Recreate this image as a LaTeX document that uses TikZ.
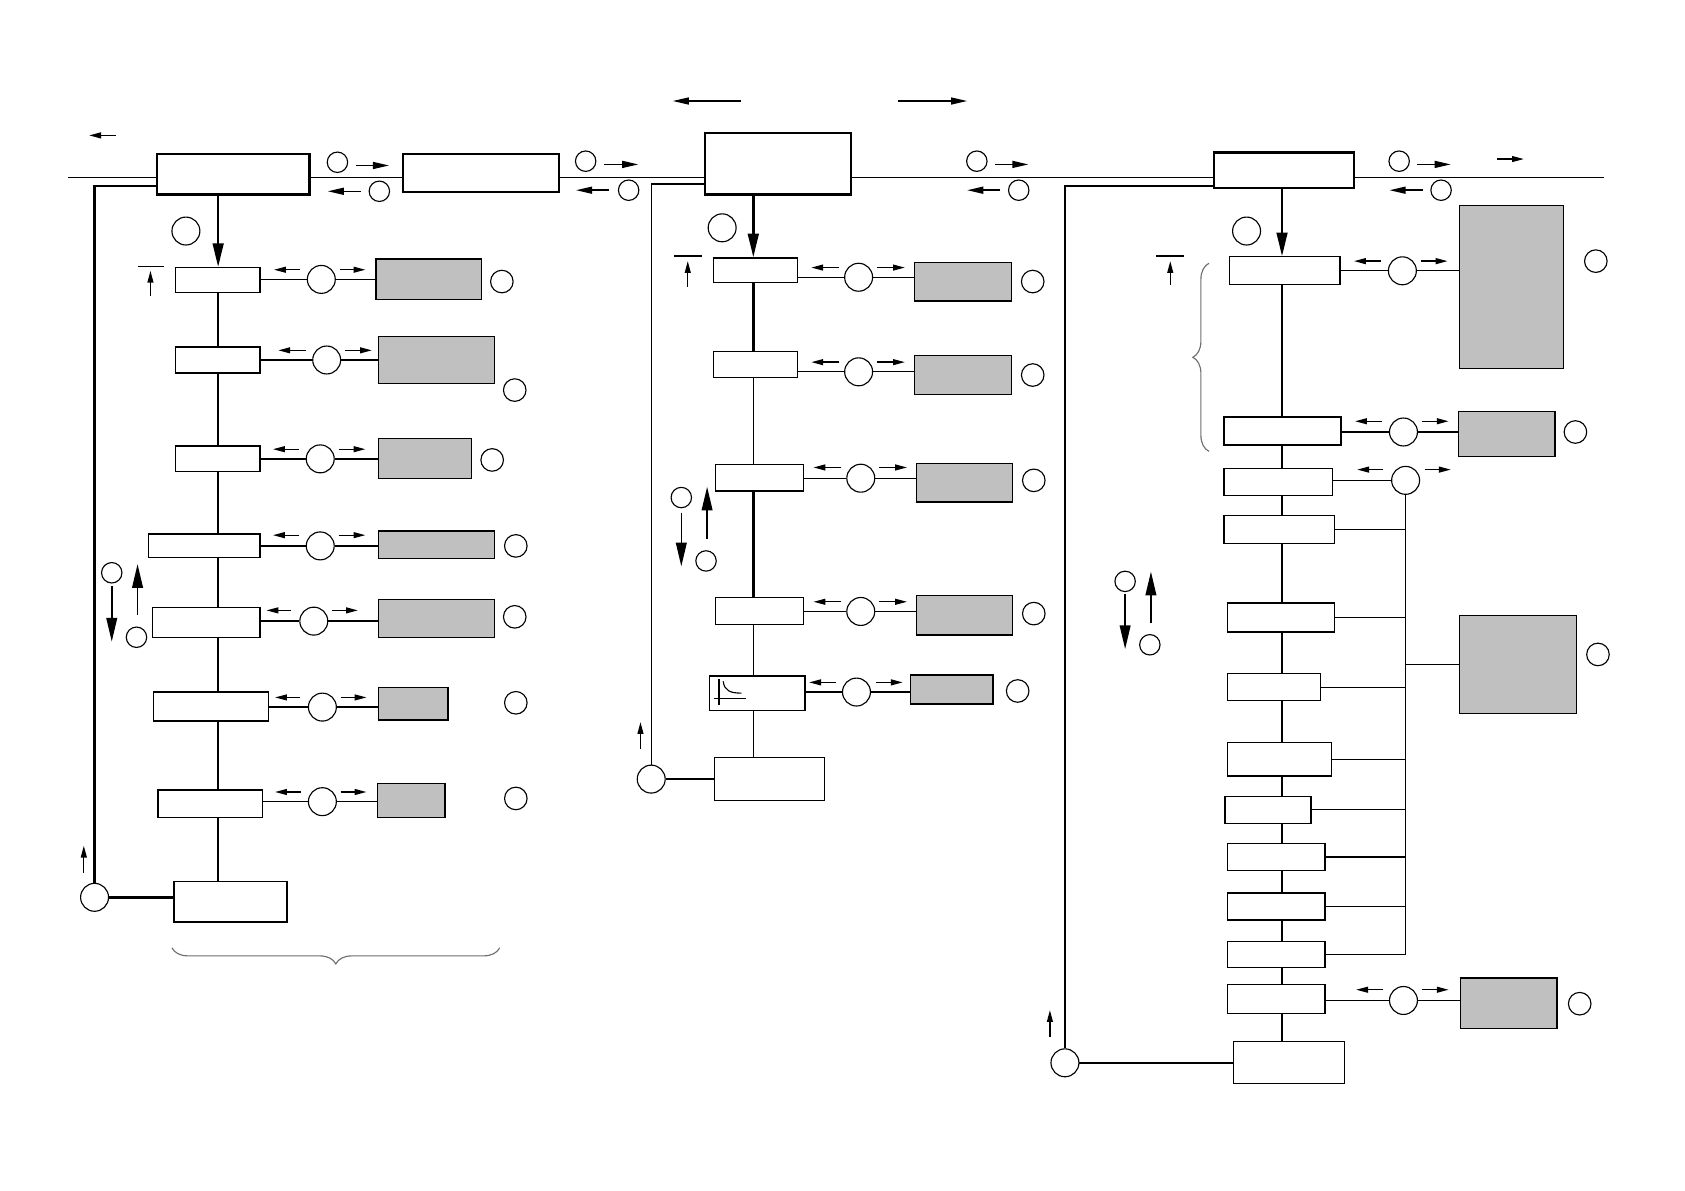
\documentclass[tikz,border=0pt]{standalone}
\usepackage{xcolor}
\usepackage{tikz}
\usetikzlibrary{arrows.meta,positioning,calc,fit,decorations.pathreplacing}
\definecolor{shade}{RGB}{192, 192, 192}
\definecolor{bracegray}{RGB}{110, 110, 110}

\begin{document}
\begin{tikzpicture}[
    x=0.02cm, y=-0.02cm,
    mainbox/.style={draw, line width=1.2pt, fill=white, inner sep=0pt},
    subbox/.style={draw, line width=0.7pt, fill=white, inner sep=0pt},
    shadebox/.style={draw, line width=0.7pt, fill=shade, inner sep=0pt},
    bigc/.style={circle, draw, line width=0.6pt, fill=white, minimum size=0.52cm, inner sep=0pt},
    tagc/.style={circle, draw, line width=0.6pt, minimum size=0.42cm, inner sep=0pt},
    smallc/.style={circle, draw, line width=0.6pt, minimum size=0.38cm, inner sep=0pt},
    bus/.style={line width=0.8pt},
    link/.style={line width=0.7pt},
    spine/.style={line width=1.3pt},
    sarrow/.style={-{Triangle[length=2.2mm,width=1.1mm]}, line width=0.7pt},
    marrow/.style={-{Triangle[length=3mm,width=1.3mm]}, line width=0.8pt},
    bigarrow/.style={-{Triangle[length=4.4mm,width=2mm]}, line width=1.3pt},
    bracket/.style={decorate, decoration={brace, amplitude=0.3cm}, bracegray, line width=0.6pt}
]
    \useasboundingbox (0,0) rectangle (1568,1108);

    % Top row: main blocks on the bus
    \node[mainbox, fit={(146,143) (288,181)}] (lmain) {};
    \node[mainbox, fit={(375,143) (520,179)}] (mid) {};
    \node[mainbox, fit={(656,124) (792,181)}] (cmain) {};
    \node[mainbox, fit={(1130,142) (1260,175)}] (rmain) {};
    \coordinate (busl) at (63,165);
    \coordinate (busr) at (1493,165);

    \draw[bus] (busl) -- (busl -| lmain.west);
    \draw[bus] (busl -| lmain.east) -- (busl -| mid.west);
    \draw[bus] (busl -| mid.east) -- (busl -| cmain.west);
    \draw[bus] (busl -| cmain.east) -- (busl -| rmain.west);
    \draw[bus] (busl -| rmain.east) -- (busr);

    % Bus flow markers
    \node[smallc] (ta1) at (314,151) {};
    \node[smallc] (ta2) at (353,178) {};
    \draw[marrow] ($(ta1)+(17,3)$) -- ++(31,0);
    \draw[marrow] ($(ta2)+(-17,0)$) -- ++(-31,0);
    \node[smallc] (tb1) at (545,150) {};
    \node[smallc] (tb2) at (585,177) {};
    \draw[marrow] ($(tb1)+(17,3)$) -- ++(32,0);
    \draw[marrow] ($(tb2)+(-18,0)$) -- ++(-31,0);
    \node[smallc] (tc1) at (909,150) {};
    \node[smallc] (tc2) at (948,177) {};
    \draw[marrow] ($(tc1)+(17,3)$) -- ++(31,0);
    \draw[marrow] ($(tc2)+(-17,0)$) -- ++(-31,0);
    \node[smallc] (td1) at (1302,150) {};
    \node[smallc] (td2) at (1341,177) {};
    \draw[marrow] ($(td1)+(17,3)$) -- ++(31,0);
    \draw[marrow] ($(td2)+(-17,0)$) -- ++(-31,0);
    \draw[sarrow] (1393,148) -- (1418,148);
    \draw[sarrow] (108,126) -- (83,126);
    \draw[marrow] (690,94) -- (626,94);
    \draw[marrow] (836,94) -- (900,94);

    % Left column
    \coordinate (lx) at (203,0);
    \node[subbox, fit={(163,249) (242,272)}] (l1) {};
    \node[subbox, fit={(163,323) (242,347)}] (l2) {};
    \node[subbox, fit={(163,415) (242,439)}] (l3) {};
    \node[subbox, fit={(138,497) (242,519)}] (l4) {};
    \node[subbox, fit={(142,565) (242,593)}] (l5) {};
    \node[subbox, fit={(143,644) (250,671)}] (l6) {};
    \node[subbox, fit={(147,735) (244,761)}] (l7) {};
    \node[subbox, fit={(162,820) (267,858)}] (lend) {};

    \draw[bigarrow] (lmain.south -| lx) -- (l1.north -| lx);
    \node[bigc] (lin) at (173,215) {};
    \draw[spine] (l1.south -| lx) -- (l2.north -| lx) (l2.south -| lx) -- (l3.north -| lx)
        (l3.south -| lx) -- (l4.north -| lx) (l4.south -| lx) -- (l5.north -| lx)
        (l5.south -| lx) -- (l6.north -| lx) (l6.south -| lx) -- (l7.north -| lx)
        (l7.south -| lx) -- (lend.north -| lx);

    \node[bigc] (lc1) at (299,260) {};
    \node[shadebox, fit={(350,241) (448,279)}] (ls1) {};
    \node[tagc] at (467,262) {};
    \node[bigc] (lc2) at (304,335) {};
    \node[shadebox, fit={(352,313) (460,357)}] (ls2) {};
    \node[tagc] at (479,363) {};
    \node[bigc] (lc3) at (298,427) {};
    \node[shadebox, fit={(352,408) (439,445)}] (ls3) {};
    \node[tagc] at (458,428) {};
    \node[bigc] (lc4) at (298,508) {};
    \node[shadebox, fit={(352,494) (460,520)}] (ls4) {};
    \node[tagc] at (480,508) {};
    \node[bigc] (lc5) at (292,578) {};
    \node[shadebox, fit={(352,558) (460,593)}] (ls5) {};
    \node[tagc] at (479,574) {};
    \node[bigc] (lc6) at (300,658) {};
    \node[shadebox, fit={(352,640) (417,670)}] (ls6) {};
    \node[tagc] at (480,654) {};
    \node[bigc] (lc7) at (300,746) {};
    \node[shadebox, fit={(351,729) (414,761)}] (ls7) {};
    \node[tagc] at (480,743) {};

    \draw[link] (lc1 -| l1.east) -- (lc1) -- (lc1 -| ls1.west);
    \draw[link] (lc2 -| l2.east) -- (lc2) -- (lc2 -| ls2.west);
    \draw[link] (lc3 -| l3.east) -- (lc3) -- (lc3 -| ls3.west);
    \draw[link] (lc4 -| l4.east) -- (lc4) -- (lc4 -| ls4.west);
    \draw[link] (lc5 -| l5.east) -- (lc5) -- (lc5 -| ls5.west);
    \draw[link] (lc6 -| l6.east) -- (lc6) -- (lc6 -| ls6.west);
    \draw[link] (lc7 -| l7.east) -- (lc7) -- (lc7 -| ls7.west);
    \draw[sarrow] ($(lc1)+(-20,-9)$) -- ++(-24,0);
    \draw[sarrow] ($(lc1)+(17,-9)$) -- ++(24,0);
    \draw[sarrow] ($(lc2)+(-19,-9)$) -- ++(-26,0);
    \draw[sarrow] ($(lc2)+(17,-9)$) -- ++(25,0);
    \draw[sarrow] ($(lc3)+(-20,-9)$) -- ++(-24,0);
    \draw[sarrow] ($(lc3)+(17,-9)$) -- ++(25,0);
    \draw[sarrow] ($(lc4)+(-20,-10)$) -- ++(-24,0);
    \draw[sarrow] ($(lc4)+(17,-10)$) -- ++(25,0);
    \draw[sarrow] ($(lc5)+(-21,-10)$) -- ++(-23,0);
    \draw[sarrow] ($(lc5)+(17,-10)$) -- ++(24,0);
    \draw[sarrow] ($(lc6)+(-21,-9)$) -- ++(-23,0);
    \draw[sarrow] ($(lc6)+(17,-9)$) -- ++(24,0);
    \draw[sarrow] ($(lc7)+(-20,-9)$) -- ++(-24,0);
    \draw[sarrow] ($(lc7)+(17,-9)$) -- ++(24,0);

    % Left: level mark, direction pair, return loop
    \draw[line width=1pt] (128,248) -- (153,248);
    \draw[sarrow] (140,275) -- (140,252);
    \node[smallc] (lu1) at (104,533) {};
    \node[smallc] (lu2) at (127,593) {};
    \draw[bigarrow, line width=0.8pt] ($(lu1)+(0,12)$) -- (104,597);
    \draw[bigarrow, line width=0.8pt] ($(lu2)+(1,-21)$) -- (128,525);
    \node[bigc] (lret) at (88,835) {};
    \draw[spine] (lret) -- (lret -| lend.west);
    \draw[spine] (lret.north) |- ([yshift=0.18cm]lmain.south west);
    \draw[sarrow] (78,812) -- (78,787);
    \draw[bracket] (465,882) -- (160,882);

    % Center column
    \coordinate (cx) at (701,0);
    \node[subbox, fit={(664,240) (742,263)}] (c1) {};
    \node[subbox, fit={(664,327) (742,351)}] (c2) {};
    \node[subbox, fit={(666,432) (748,457)}] (c3) {};
    \node[subbox, fit={(666,556) (748,581)}] (c4) {};
    \node[subbox, fit={(660,629) (749,661)}] (c5) {};
    \node[subbox, fit={(665,705) (767,745)}] (cend) {};

    \draw[bigarrow] (cmain.south -| cx) -- (c1.north -| cx);
    \node[bigc] (cin) at (672,212) {};
    \draw[spine] (c1.south -| cx) -- (c2.north -| cx);
    \draw[link] (c2.south -| cx) -- (c3.north -| cx);
    \draw[spine] (c3.south -| cx) -- (c4.north -| cx);
    \draw[link] (c4.south -| cx) -- (c5.north -| cx);
    \draw[link] (c5.south -| cx) -- (cend.north -| cx);

    % curve symbol in c5
    \draw[link] (669,632) -- (669,656);
    \draw[link] (664,650) -- (694,650);
    \draw[line width=0.6pt] (673,634) .. controls (674,643) and (680,645) .. (690,645);

    \node[bigc] (cc1) at (799,258) {};
    \node[shadebox, fit={(851,244) (941,280)}] (cs1) {};
    \node[tagc] at (961,262) {};
    \node[bigc] (cc2) at (799,346) {};
    \node[shadebox, fit={(851,331) (941,367)}] (cs2) {};
    \node[tagc] at (961,349) {};
    \node[bigc] (cc3) at (801,445) {};
    \node[shadebox, fit={(853,431) (942,467)}] (cs3) {};
    \node[tagc] at (962,447) {};
    \node[bigc] (cc4) at (801,569) {};
    \node[shadebox, fit={(853,554) (942,591)}] (cs4) {};
    \node[tagc] at (962,571) {};
    \node[bigc] (cc5) at (797,644) {};
    \node[shadebox, fit={(847,628) (924,655)}] (cs5) {};
    \node[tagc] at (947,643) {};

    \draw[link] (cc1 -| c1.east) -- (cc1) -- (cc1 -| cs1.west);
    \draw[link] (cc2 -| c2.east) -- (cc2) -- (cc2 -| cs2.west);
    \draw[link] (cc3 -| c3.east) -- (cc3) -- (cc3 -| cs3.west);
    \draw[link] (cc4 -| c4.east) -- (cc4) -- (cc4 -| cs4.west);
    \draw[link] (cc5 -| c5.east) -- (cc5) -- (cc5 -| cs5.west);
    \draw[sarrow] ($(cc1)+(-18,-9)$) -- ++(-26,0);
    \draw[sarrow] ($(cc1)+(17,-9)$) -- ++(26,0);
    \draw[sarrow] ($(cc2)+(-18,-9)$) -- ++(-26,0);
    \draw[sarrow] ($(cc2)+(17,-9)$) -- ++(26,0);
    \draw[sarrow] ($(cc3)+(-18,-10)$) -- ++(-26,0);
    \draw[sarrow] ($(cc3)+(17,-10)$) -- ++(26,0);
    \draw[sarrow] ($(cc4)+(-18,-9)$) -- ++(-26,0);
    \draw[sarrow] ($(cc4)+(17,-9)$) -- ++(26,0);
    \draw[sarrow] ($(cc5)+(-19,-9)$) -- ++(-25,0);
    \draw[sarrow] ($(cc5)+(18,-9)$) -- ++(25,0);

    % Center: level mark, direction pair, return loop
    \draw[line width=1pt] (627,238) -- (653,238);
    \draw[sarrow] (640,267) -- (640,243);
    \node[smallc] (cu1) at (634,463) {};
    \node[smallc] (cu2) at (657,522) {};
    \draw[bigarrow, line width=0.8pt] ($(cu1)+(0,14)$) -- (634,527);
    \draw[bigarrow, line width=0.8pt] ($(cu2)+(1,-20)$) -- (658,453);
    \node[bigc] (cret) at (606,725) {};
    \coordinate (ctop) at (606,171);
    \draw[spine] (cret) -- (cret -| cend.west);
    \draw[link] (cret.north) -- (ctop);
    \draw[line width=1pt] (ctop) -- (ctop -| cmain.west);
    \draw[sarrow] (596,697) -- (596,672);

    % Right column
    \coordinate (rx) at (1193,0);
    \node[subbox, fit={(1144,239) (1247,265)}] (r1) {};
    \node[subbox, fit={(1139,388) (1248,414)}] (r2) {};
    \node[subbox, fit={(1139,436) (1240,461)}] (r3) {};
    \node[subbox, fit={(1139,480) (1242,506)}] (r4) {};
    \node[subbox, fit={(1142,561) (1242,588)}] (r5) {};
    \node[subbox, fit={(1142,627) (1229,652)}] (r6) {};
    \node[subbox, fit={(1142,691) (1239,722)}] (r7) {};
    \node[subbox, fit={(1140,741) (1220,766)}] (r8) {};
    \node[subbox, fit={(1142,785) (1233,810)}] (r9) {};
    \node[subbox, fit={(1142,831) (1233,856)}] (r10) {};
    \node[subbox, fit={(1142,876) (1233,900)}] (r11) {};
    \node[subbox, fit={(1142,916) (1233,943)}] (r12) {};
    \node[subbox, fit={(1148,969) (1251,1008)}] (rend) {};

    \draw[bigarrow] (rmain.south -| rx) -- (r1.north -| rx);
    \node[bigc] (rin) at (1160,215) {};
    \draw[spine] (r1.south -| rx) -- (r2.north -| rx) (r2.south -| rx) -- (r3.north -| rx)
        (r3.south -| rx) -- (r4.north -| rx) (r4.south -| rx) -- (r5.north -| rx)
        (r5.south -| rx) -- (r6.north -| rx) (r6.south -| rx) -- (r7.north -| rx)
        (r7.south -| rx) -- (r8.north -| rx) (r8.south -| rx) -- (r9.north -| rx)
        (r9.south -| rx) -- (r10.north -| rx) (r10.south -| rx) -- (r11.north -| rx)
        (r11.south -| rx) -- (r12.north -| rx) (r12.south -| rx) -- (rend.north -| rx);

    \node[bigc] (rc1) at (1305,252) {};
    \node[shadebox, fit={(1358,191) (1455,343)}] (rs1) {};
    \node[tagc] at (1485,243) {};
    \node[bigc] (rc2) at (1306,402) {};
    \node[shadebox, fit={(1357,383) (1447,425)}] (rs2) {};
    \node[tagc] at (1466,402) {};
    \node[bigc] (rc3) at (1308,447) {};
    \node[shadebox, fit={(1358,573) (1467,664)}] (rs3) {};
    \node[tagc] at (1487,609) {};
    \node[bigc] (rc12) at (1306,931) {};
    \node[shadebox, fit={(1359,910) (1449,957)}] (rs12) {};
    \node[tagc] at (1470,934) {};

    \draw[link] (rc1 -| r1.east) -- (rc1) -- (rc1 -| rs1.west);
    \draw[link] (rc2 -| r2.east) -- (rc2) -- (rc2 -| rs2.west);
    \draw[link] (rc3 -| r3.east) -- (rc3);
    \draw[link] (rc12 -| r12.east) -- (rc12) -- (rc12 -| rs12.west);
    \draw[sarrow] ($(rc1)+(-20,-9)$) -- ++(-25,0);
    \draw[sarrow] ($(rc1)+(17,-9)$) -- ++(25,0);
    \draw[sarrow] ($(rc2)+(-20,-10)$) -- ++(-25,0);
    \draw[sarrow] ($(rc2)+(17,-10)$) -- ++(25,0);
    \draw[sarrow] ($(rc3)+(-21,-10)$) -- ++(-24,0);
    \draw[sarrow] ($(rc3)+(18,-10)$) -- ++(24,0);
    \draw[sarrow] ($(rc12)+(-19,-10)$) -- ++(-25,0);
    \draw[sarrow] ($(rc12)+(17,-10)$) -- ++(25,0);

    % Shared branch line from rc3
    \draw[link] (rc3.south) -- (rc3 |- r11.east);
    \draw[link] (r4.east) -- (r4.east -| rc3);
    \draw[link] (r5.east) -- (r5.east -| rc3);
    \draw[link] (r6.east) -- (r6.east -| rc3);
    \draw[link] (r7.east) -- (r7.east -| rc3);
    \draw[link] (r8.east) -- (r8.east -| rc3);
    \draw[link] (r9.east) -- (r9.east -| rc3);
    \draw[link] (r10.east) -- (r10.east -| rc3);
    \draw[link] (r11.east) -- (r11.east -| rc3);
    \draw[link] (rs3.west -| rc3) -- (rs3.west);

    % Right: level mark, bracket, direction pair, return loop
    \draw[line width=1pt] (1076,238) -- (1102,238);
    \draw[sarrow] (1089,265) -- (1089,243);
    \draw[bracket] (1125,420) -- (1125,245);
    \node[smallc] (ru1) at (1047,541) {};
    \node[smallc] (ru2) at (1070,600) {};
    \draw[bigarrow, line width=0.8pt] ($(ru1)+(0,12)$) -- (1047,604);
    \draw[bigarrow, line width=0.8pt] ($(ru2)+(1,-20)$) -- (1071,532);
    \node[bigc] (rret) at (991,989) {};
    \draw[spine] (rret) -- (rret -| rend.west);
    \draw[spine] (rret.north) |- ([yshift=0.06cm]rmain.south west);
    \draw[sarrow] (977,965) -- (977,940);

\end{tikzpicture}
\end{document}
